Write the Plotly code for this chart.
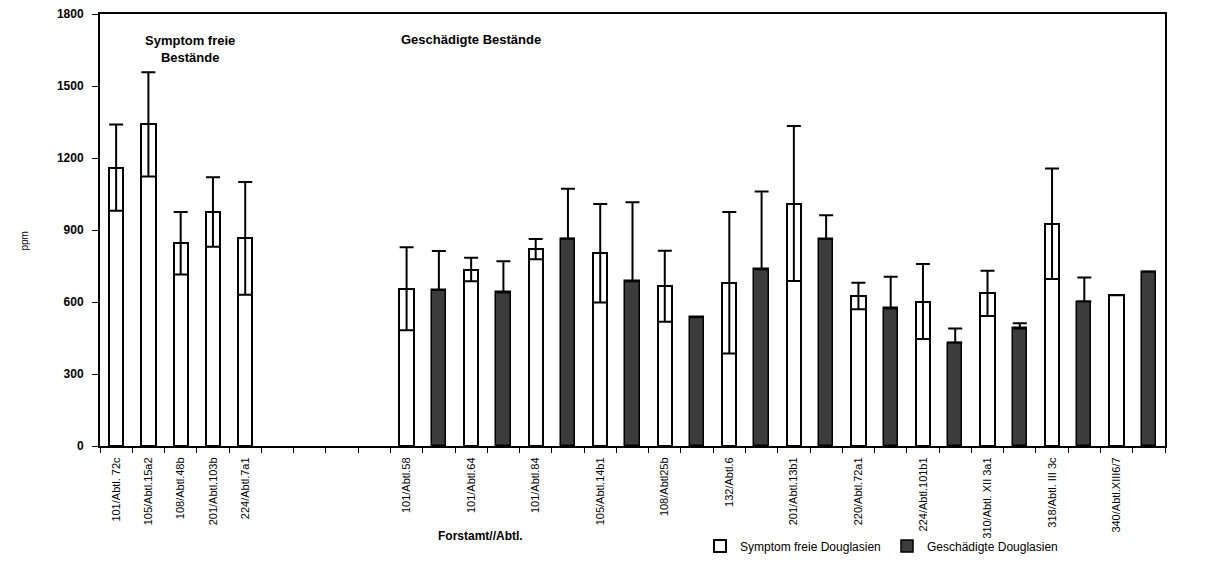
import plotly.graph_objects as go

# Symptom-free stands (left group): mean and standard deviation, ppm
left_labels = ["101/Abtl. 72c", "105/Abtl.15a2", "108/Abtl.48b", "201/Abtl.103b", "224/Abtl.7a1"]
left_mean = [1160, 1340, 845, 975, 865]
left_sd = [180, 217, 130, 145, 235]

# Damaged stands (right group): symptom-free vs. damaged Douglas firs per stand
right_labels = ["101/Abtl.58", "101/Abtl.64", "101/Abtl.84", "105/Abtl.14b1", "108/Abtl25b",
                "132/Abtl.6", "201/Abtl.13b1", "220/Abtl.72a1", "224/Abtl.101b1",
                "310/Abtl. XII 3a1", "318/Abtl. III 3c", "340/Abtl.XIII6/7"]
right_free_mean = [655, 735, 820, 803, 666, 680, 1010, 625, 602, 636, 926, 628]
right_free_sd = [173, 49, 42, 205, 148, 295, 323, 55, 156, 94, 230, None]
right_dam_mean = [650, 640, 864, 686, 536, 736, 862, 573, 430, 490, 602, 726]
right_dam_sd = [163, 130, 208, 330, None, 324, 99, 132, 60, 21, 100, None]

y_ticks = [0, 300, 600, 900, 1200, 1500, 1800]

GAP_SLOTS = 4  # empty category slots between the two groups

# slot positions along the category axis
left_x = list(range(len(left_labels)))
start = len(left_labels) + GAP_SLOTS
free_x = [start + 2 * i for i in range(len(right_labels))]
dam_x = [start + 2 * i + 1 for i in range(len(right_labels))]
n_slots = start + 2 * len(right_labels)

white_x = left_x + free_x
white_y = left_mean + right_free_mean
white_err = left_sd + right_free_sd

BAR_W = 0.44
FONT = "Liberation Sans, Arial, sans-serif"

M_L, M_R, M_T, M_B = 100, 40, 14, 118
W, H = 1205, 564
plot_w = W - M_L - M_R
plot_h = H - M_T - M_B


def px_to_paper(px, py):
    return (px - M_L) / plot_w, (H - M_B - py) / plot_h


fig = go.Figure()
fig.add_trace(go.Bar(
    x=white_x, y=white_y, width=BAR_W, name="Symptom freie Douglasien",
    marker=dict(color="white", line=dict(color="black", width=2)),
    error_y=dict(type="data", array=white_err, symmetric=True,
                 color="black", thickness=2, width=7),
))
fig.add_trace(go.Bar(
    x=dam_x, y=right_dam_mean, width=BAR_W, name="Geschädigte Douglasien",
    marker=dict(color="#3c3c3c", line=dict(color="black", width=1.5)),
    error_y=dict(type="data", array=right_dam_sd, symmetric=False,
                 arrayminus=[0 if v is not None else None for v in right_dam_sd],
                 color="black", thickness=2, width=7),
))

lx, ly = px_to_paper(700, 546)
fig.update_layout(
    width=W, height=H,
    margin=dict(l=M_L, r=M_R, t=M_T, b=M_B, autoexpand=False),
    paper_bgcolor="white", plot_bgcolor="white",
    barmode="overlay", bargap=0,
    font=dict(family=FONT, color="black"),
    showlegend=True,
    legend=dict(orientation="h", x=lx, xanchor="left", y=ly, yanchor="middle",
                font=dict(size=12, family=FONT), itemwidth=30,
                entrywidth=142, entrywidthmode="pixels",
                bgcolor="rgba(0,0,0,0)", traceorder="normal"),
)

fig.update_xaxes(
    range=[-0.5, n_slots - 0.5], automargin=False,
    tickmode="array", tickvals=left_x + free_x, ticktext=left_labels + right_labels,
    tickangle=-90, tickfont=dict(size=11, family=FONT),
    ticks="", ticklabelstandoff=5, showgrid=False, zeroline=False,
    showline=True, linecolor="black", linewidth=2, mirror=True,
    minor=dict(tickmode="linear", tick0=-0.5, dtick=1, ticks="outside",
               ticklen=5, tickwidth=1, tickcolor="black", showgrid=False),
)
fig.update_yaxes(
    range=[0, 1800], automargin=False, tickmode="array", tickvals=y_ticks,
    ticktext=[str(v) for v in y_ticks],
    tickfont=dict(size=12, family=FONT, weight="bold"),
    ticks="outside", ticklen=6, tickwidth=1, tickcolor="black",
    ticklabelstandoff=6,
    showgrid=False, zeroline=False,
    showline=True, linecolor="black", linewidth=2, mirror=True,
    title=None,
)

# group headings inside the plot area
fig.add_annotation(x=2.3, y=1656, xref="x", yref="y", showarrow=False,
                   text="Symptom freie<br>Bestände", align="center",
                   font=dict(size=13, family=FONT, weight="bold"))
fig.add_annotation(x=11.0, y=1692, xref="x", yref="y", showarrow=False,
                   text="Geschädigte Bestände", align="center",
                   font=dict(size=13, family=FONT, weight="bold"))

# axis titles
tx, ty = px_to_paper(436, 545)
fig.add_annotation(x=tx, y=ty, xref="paper", yref="paper", showarrow=False,
                   text="Forstamt//Abtl.", font=dict(size=12, family=FONT, weight="bold"))
px_, py_ = px_to_paper(16, 241)
fig.add_annotation(x=px_, y=py_, xref="paper", yref="paper", showarrow=False,
                   textangle=-90, text="ppm", font=dict(size=10, family=FONT))

fig.write_html("out.html")
